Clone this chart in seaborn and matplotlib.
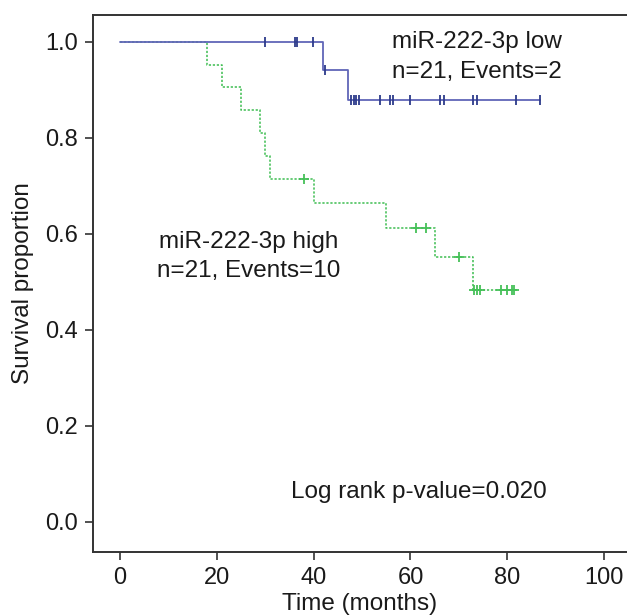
import numpy as np
import pandas as pd
import matplotlib
matplotlib.use("Agg")
import matplotlib.pyplot as plt
import seaborn as sns

# ---- data ----
low_times = [30.0, 36.1, 36.65, 39.9, 42.0, 42.3, 47.0, 47.8, 48.3, 48.8, 49.3,
             53.8, 55.7, 56.4, 59.9, 66.1, 66.9, 73.0, 73.7, 81.9, 86.8]
low_events = [0, 0, 0, 0, 1, 0, 1, 0, 0, 0, 0,
              0, 0, 0, 0, 0, 0, 0, 0, 0, 0]
high_times = [18.0, 21.0, 25.0, 29.0, 30.0, 31.0, 38.0, 40.0, 55.0, 61.1, 63.2,
              65.0, 70.1, 73.0, 73.2, 73.7, 74.3, 78.8, 79.9, 80.9, 81.5]
high_events = [1, 1, 1, 1, 1, 1, 0, 1, 1, 0, 0,
               1, 0, 1, 0, 0, 0, 0, 0, 0, 0]
x_ticks = [0, 20, 40, 60, 80, 100]
y_ticks = [0.0, 0.2, 0.4, 0.6, 0.8, 1.0]


def km(times, events):
    t = np.asarray(times, float)
    e = np.asarray(events, int)
    order = np.lexsort((-e, t))
    t, e = t[order], e[order]
    n = len(t)
    s = 1.0
    steps_t, steps_s = [0.0], [1.0]
    cens_t, cens_s = [], []
    at_risk = n
    for ti, ei in zip(t, e):
        if ei == 1:
            s *= (at_risk - 1) / at_risk
            steps_t.append(ti)
            steps_s.append(s)
        else:
            cens_t.append(ti)
            cens_s.append(s)
        at_risk -= 1
    steps_t.append(t.max())
    steps_s.append(s)
    return (pd.DataFrame({"time": steps_t, "surv": steps_s}),
            pd.DataFrame({"time": cens_t, "surv": cens_s}))


low_steps, low_cens = km(low_times, low_events)
high_steps, high_cens = km(high_times, high_events)

sns.set_theme(style="white")
plt.rcParams["font.family"] = ["Liberation Sans", "DejaVu Sans"]

fig = plt.figure(figsize=(6.27, 6.16), dpi=100)
ax = fig.add_axes([0.148, 0.104, 0.852, 0.872])

blue = "#6066b8"
blue_mark = "#2c3a8a"
green = "#45c058"

sns.lineplot(data=high_steps, x="time", y="surv", drawstyle="steps-post",
             estimator=None, sort=False, color=green, linewidth=1.15,
             linestyle=(0, (1.4, 1.1)), ax=ax)
sns.lineplot(data=low_steps, x="time", y="surv", drawstyle="steps-post",
             estimator=None, sort=False, color=blue, linewidth=1.3, ax=ax)
sns.scatterplot(data=high_cens, x="time", y="surv", marker="+", s=55,
                color=green, linewidth=1.3, ax=ax, zorder=5)
sns.scatterplot(data=low_cens, x="time", y="surv", marker="|", s=55,
                color=blue_mark, linewidth=1.3, ax=ax, zorder=5)

ax.set_xlim(-5.65, 104.75)
ax.set_ylim(-0.0625, 1.056)
ax.set_xticks(x_ticks)
ax.set_xticklabels([str(v) for v in x_ticks])
ax.set_yticks(y_ticks)
ax.set_yticklabels([f"{v:.1f}" for v in y_ticks])

for side in ["left", "bottom", "top"]:
    ax.spines[side].set_visible(True)
    ax.spines[side].set_color("#333333")
    ax.spines[side].set_linewidth(1.4)
ax.spines["right"].set_visible(False)

ax.tick_params(axis="both", which="both", direction="out", length=6, width=1.2,
               color="#333333", labelsize=17, pad=5, left=True, bottom=True,
               labelcolor="#1a1a1a")

ax.set_xlabel("Time (months)", fontsize=17.5, labelpad=3, color="#1a1a1a")
ax.set_ylabel("Survival proportion", fontsize=17.5, labelpad=8, color="#1a1a1a")

ax.text(73.7, 1.0, "miR-222-3p low", ha="center", va="center", fontsize=17.5,
        color="#1a1a1a")
ax.text(73.7, 0.9375, "n=21, Events=2", ha="center", va="center", fontsize=17.5,
        color="#1a1a1a")
ax.text(26.6, 0.583, "miR-222-3p high", ha="center", va="center", fontsize=17.5,
        color="#1a1a1a")
ax.text(26.6, 0.523, "n=21, Events=10", ha="center", va="center", fontsize=17.5,
        color="#1a1a1a")
ax.text(61.7, 0.0625, "Log rank p-value=0.020", ha="center", va="center",
        fontsize=17.5, color="#1a1a1a")

fig.savefig("out.png", dpi=100)
